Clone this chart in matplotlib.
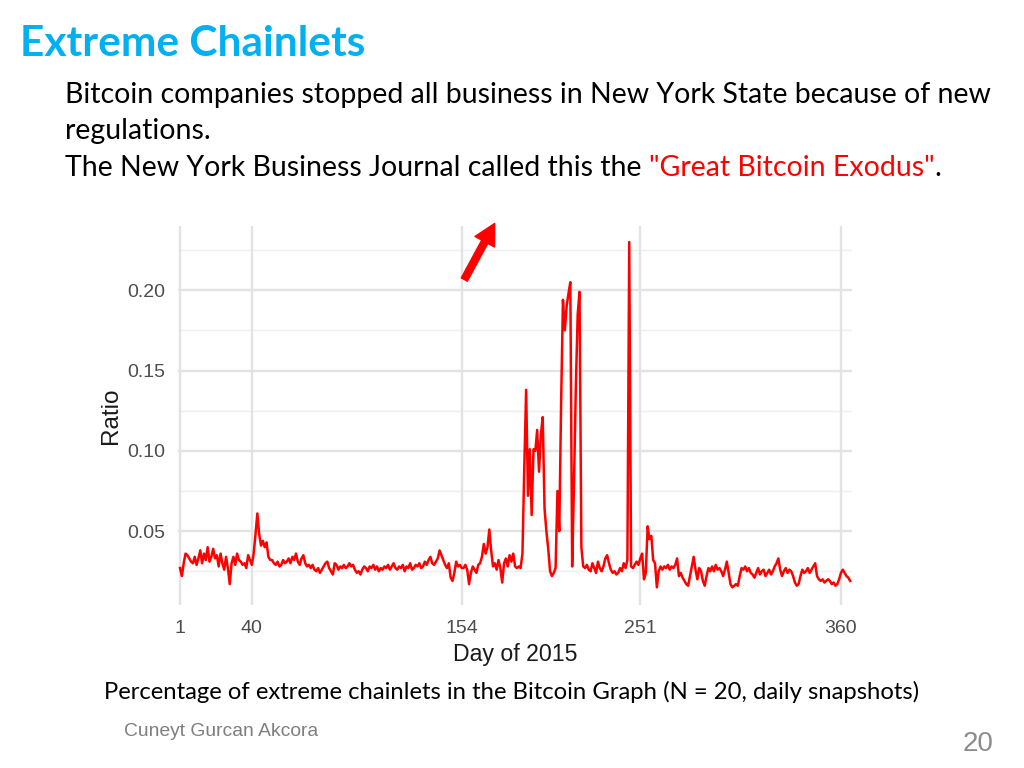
import numpy as np
import matplotlib
matplotlib.use("Agg")
import matplotlib.pyplot as plt
from matplotlib.patches import FancyArrowPatch

# share of extreme chainlets per day of 2015
ratio = [
    0.027, 0.022, 0.030, 0.036, 0.035, 0.033, 0.031, 0.030, 0.034, 0.029,
    0.033, 0.038, 0.030, 0.036, 0.032, 0.040, 0.031, 0.034, 0.039, 0.033,
    0.035, 0.028, 0.036, 0.030, 0.026, 0.034, 0.027, 0.017, 0.030, 0.034,
    0.029, 0.036, 0.032, 0.031, 0.029, 0.030, 0.027, 0.035, 0.032, 0.029,
    0.036, 0.048, 0.061, 0.048, 0.041, 0.044, 0.040, 0.043, 0.034, 0.032,
    0.032, 0.030, 0.029, 0.031, 0.028, 0.029, 0.032, 0.030, 0.031, 0.033,
    0.030, 0.034, 0.032, 0.036, 0.031, 0.029, 0.033, 0.035, 0.030, 0.028,
    0.029, 0.027, 0.029, 0.026, 0.025, 0.027, 0.024, 0.026, 0.028, 0.030,
    0.031, 0.027, 0.025, 0.023, 0.030, 0.029, 0.026, 0.028, 0.027, 0.029,
    0.027, 0.028, 0.030, 0.028, 0.029, 0.026, 0.024, 0.025, 0.023, 0.026,
    0.028, 0.027, 0.025, 0.028, 0.027, 0.029, 0.026, 0.028, 0.025, 0.027,
    0.026, 0.028, 0.027, 0.029, 0.026, 0.028, 0.030, 0.027, 0.026, 0.028,
    0.027, 0.029, 0.025, 0.028, 0.027, 0.030, 0.026, 0.027, 0.029, 0.028,
    0.030, 0.027, 0.028, 0.031, 0.029, 0.032, 0.034, 0.030, 0.029, 0.031,
    0.033, 0.038, 0.035, 0.032, 0.029, 0.027, 0.030, 0.021, 0.019, 0.024,
    0.031, 0.028, 0.029, 0.027, 0.027, 0.029, 0.026, 0.017, 0.024, 0.028,
    0.026, 0.024, 0.029, 0.030, 0.034, 0.042, 0.036, 0.040, 0.051, 0.038,
    0.028, 0.030, 0.026, 0.032, 0.027, 0.018, 0.030, 0.033, 0.028, 0.035,
    0.031, 0.036, 0.028, 0.027, 0.028, 0.027, 0.036, 0.090, 0.138, 0.072,
    0.101, 0.060, 0.101, 0.100, 0.113, 0.087, 0.110, 0.121, 0.064, 0.050,
    0.039, 0.025, 0.022, 0.024, 0.027, 0.075, 0.050, 0.130, 0.194, 0.175,
    0.190, 0.198, 0.205, 0.028, 0.080, 0.140, 0.185, 0.199, 0.040, 0.028,
    0.027, 0.029, 0.026, 0.025, 0.030, 0.027, 0.024, 0.031, 0.027, 0.025,
    0.028, 0.033, 0.035, 0.030, 0.026, 0.024, 0.025, 0.023, 0.024, 0.027,
    0.025, 0.030, 0.027, 0.032, 0.230, 0.028, 0.027, 0.029, 0.031, 0.029,
    0.033, 0.036, 0.020, 0.024, 0.053, 0.045, 0.047, 0.032, 0.030, 0.015,
    0.025, 0.028, 0.026, 0.028, 0.027, 0.029, 0.026, 0.028, 0.027, 0.029,
    0.033, 0.022, 0.024, 0.021, 0.019, 0.017, 0.016, 0.022, 0.028, 0.034,
    0.026, 0.020, 0.027, 0.025, 0.019, 0.016, 0.022, 0.027, 0.025, 0.028,
    0.025, 0.029, 0.026, 0.027, 0.025, 0.022, 0.026, 0.031, 0.024, 0.017,
    0.015, 0.016, 0.017, 0.016, 0.022, 0.027, 0.026, 0.028, 0.025, 0.027,
    0.024, 0.023, 0.021, 0.024, 0.027, 0.023, 0.025, 0.026, 0.022, 0.024,
    0.026, 0.023, 0.025, 0.028, 0.030, 0.033, 0.026, 0.022, 0.025, 0.027,
    0.024, 0.026, 0.025, 0.022, 0.018, 0.016, 0.017, 0.022, 0.026, 0.024,
    0.025, 0.027, 0.024, 0.026, 0.028, 0.030, 0.022, 0.020, 0.019, 0.020,
    0.018, 0.019, 0.020, 0.019, 0.017, 0.018, 0.016, 0.017, 0.020, 0.024,
    0.026, 0.024, 0.022, 0.021, 0.019,
]
days = np.arange(1, len(ratio) + 1)

x_ticks = [1, 40, 154, 251, 360]
y_ticks = [0.05, 0.10, 0.15, 0.20]
y_ticklabels = ["0.05", "0.10", "0.15", "0.20"]
y_minor = [0.025, 0.075, 0.125, 0.175, 0.225]

W, H = 1024, 768
fig = plt.figure(figsize=(W / 100, H / 100), dpi=100)
fig.patch.set_facecolor("white")

# slide text
fig.text(20 / W, 1 - 44 / H, "Extreme Chainlets", fontsize=30.5, weight="bold",
         color="#00b0f0", family="Lato", va="center")
body = dict(fontsize=20.5, family="Lato", color="black", va="center")
fig.text(65 / W, 1 - 95 / H,
         "Bitcoin companies stopped all business in New York State because of new", **body)
fig.text(65 / W, 1 - 131 / H, "regulations.", **body)
t1 = fig.text(65 / W, 1 - 168 / H, "The New York Business Journal called this the ", **body)
r = fig.canvas.get_renderer()
x_end = t1.get_window_extent(r).x1
t2 = fig.text(x_end / W, 1 - 168 / H, "\"Great Bitcoin Exodus\"", fontsize=20.5,
              family="Lato", color="#ff0000", va="center")
x_end = t2.get_window_extent(r).x1
fig.text(x_end / W, 1 - 168 / H, ".", **body)

fig.text(512 / W, 1 - 692 / H,
         "Percentage of extreme chainlets in the Bitcoin Graph (N = 20, daily snapshots)",
         fontsize=17.2, family="Lato", color="black", ha="center", va="center")
fig.text(124 / W, 1 - 732 / H, "Cuneyt Gurcan Akcora", fontsize=13.9,
         family="Liberation Sans", color="#7f7f7f", va="center")
fig.text(993 / W, 1 - 744 / H, "20", fontsize=20, family="Liberation Sans",
         color="#8c8c8c", ha="right", va="center")

# the chart
ax = fig.add_axes([178 / W, 1 - 605 / H, 674 / W, 379 / H])
ax.set_facecolor("white")
for y in y_minor:
    ax.axhline(y, color="#efefef", lw=1.0, zorder=0)
for y in y_ticks:
    ax.axhline(y, color="#e3e3e3", lw=1.7, zorder=0)
for x in x_ticks:
    ax.axvline(x, color="#e3e3e3", lw=1.7, zorder=0)
ax.plot(days, ratio, color="#ff0000", lw=1.8, zorder=3)

ax.set_xlim(-0.1, 366)
ax.set_ylim(0.004, 0.240)
ax.set_xticks(x_ticks)
ax.set_yticks(y_ticks)
ax.set_yticklabels(y_ticklabels)
ax.tick_params(length=0, labelsize=14, labelcolor="#4d4d4d", pad=9)
ax.tick_params(axis="x", pad=11)
for lab in ax.get_xticklabels() + ax.get_yticklabels():
    lab.set_family("Liberation Sans")
for s in ax.spines.values():
    s.set_visible(False)
ax.set_xlabel("Day of 2015", fontsize=16.7, family="Liberation Sans",
              color="#1a1a1a", labelpad=4)
ax.set_ylabel("Ratio", fontsize=17.5, family="Liberation Sans",
              color="#1a1a1a", labelpad=4)

# red arrow pointing at the exodus
arrow = FancyArrowPatch((463 / W, 1 - 282 / H), (496 / W, 1 - 221 / H),
                        transform=fig.transFigure, arrowstyle="simple,head_width=3.2,head_length=3,tail_width=1",
                        mutation_scale=5, color="#ff0000")
fig.add_artist(arrow)

fig.savefig("out.png", dpi=100, facecolor="white")
